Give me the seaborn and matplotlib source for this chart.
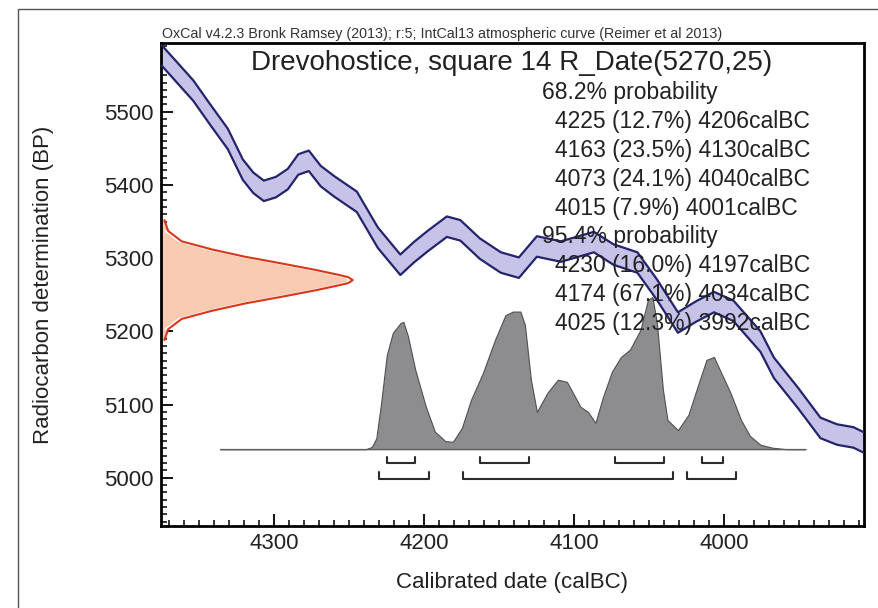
import numpy as np
import pandas as pd
import seaborn as sns
import matplotlib.pyplot as plt
from matplotlib.patches import Rectangle
from matplotlib.ticker import MultipleLocator

# calibration curve (IntCal13), centre line
curve_cal = [4375, 4354, 4343, 4331, 4321, 4314, 4307, 4299, 4291, 4284, 4277, 4269, 4260,
             4245, 4231, 4216, 4207, 4198, 4185, 4176, 4163, 4149, 4137, 4125, 4109, 4087,
             4074, 4058, 4045, 4031, 4019, 4007, 3994, 3976, 3967, 3951, 3936, 3925, 3914, 3907]
curve_bp = [5577, 5529, 5497, 5463, 5421, 5403, 5392, 5397, 5408, 5428, 5433, 5412, 5398,
            5377, 5328, 5291, 5308, 5323, 5343, 5338, 5313, 5294, 5287, 5316, 5309, 5322,
            5305, 5294, 5257, 5212, 5227, 5240, 5228, 5186, 5150, 5109, 5068, 5059, 5055, 5048]
curve_sigma = 14

# radiocarbon measurement R_Date(5270,25), drawn on the y axis
meas_bp = [5352, 5337, 5323, 5312, 5302, 5293, 5284, 5277, 5274, 5270, 5266, 5263, 5256,
           5247, 5238, 5228, 5217, 5203, 5188]
meas_width = [1.5, 4, 13, 33, 55, 79, 102, 118, 124, 127, 124, 118, 102,
              79, 55, 33, 13, 4, 1.5]

# calibrated posterior, heights above the baseline
post_base = 5039
post_cal = [4336, 4239, 4235, 4232, 4229, 4225, 4221, 4216, 4214, 4211, 4206, 4199, 4193,
            4186, 4181, 4175, 4169, 4161, 4153, 4146, 4141, 4136, 4133, 4129, 4125, 4118,
            4111, 4105, 4101, 4096, 4091, 4086, 4081, 4075, 4069, 4063, 4056, 4051, 4048,
            4045, 4041, 4038, 4031, 4024, 4018, 4012, 4007, 4003, 3996, 3989, 3983, 3976,
            3968, 3959, 3946]
post_h = [0, 0, 3, 15, 60, 129, 159, 172, 174, 155, 108, 58, 24,
          11, 10, 29, 67, 104, 149, 183, 188, 188, 170, 95, 51, 77,
          95, 92, 77, 58, 51, 36, 71, 106, 126, 136, 163, 204, 208,
          172, 81, 40, 26, 47, 85, 122, 126, 108, 77, 40, 18, 6,
          2, 0, 0]

# highest posterior density ranges
ranges_68 = [(4225, 4206), (4163, 4130), (4073, 4040), (4015, 4001)]
ranges_95 = [(4230, 4197), (4174, 4034), (4025, 3992)]
range_levels = {'68': (5020, 5028), '95': (4998, 5008)}

title = "Drevohostice, square 14 R_Date(5270,25)"
header = "OxCal v4.2.3 Bronk Ramsey (2013); r:5; IntCal13 atmospheric curve (Reimer et al 2013)"
info_lines = [
    ("68.2% probability", 0),
    ("4225 (12.7%) 4206calBC", 1),
    ("4163 (23.5%) 4130calBC", 1),
    ("4073 (24.1%) 4040calBC", 1),
    ("4015 (7.9%) 4001calBC", 1),
    ("95.4% probability", 0),
    ("4230 (16.0%) 4197calBC", 1),
    ("4174 (67.1%) 4034calBC", 1),
    ("4025 (12.3%) 3992calBC", 1),
]

sns.set_theme(style='ticks')
plt.rcParams['font.family'] = ['Liberation Sans', 'DejaVu Sans']

W, H = 879, 608
fig = plt.figure(figsize=(W / 100, H / 100), dpi=100)
ax = fig.add_axes([161 / W, (H - 526) / H, (864 - 161) / W, (526 - 43) / H])

curve = pd.DataFrame({'cal': curve_cal, 'bp': curve_bp})
curve['lo'] = curve['bp'] - curve_sigma
curve['hi'] = curve['bp'] + curve_sigma

ax.fill_between(curve['cal'], curve['lo'], curve['hi'], color='#c6c2e8', lw=0, zorder=2)
sns.lineplot(data=curve, x='cal', y='hi', sort=False, color='#25246a', lw=1.6, ax=ax, zorder=3)
sns.lineplot(data=curve, x='cal', y='lo', sort=False, color='#25246a', lw=1.6, ax=ax, zorder=3)

# measurement distribution hanging off the left axis
x0 = 4375.5
meas_x = [x0 - w for w in meas_width]
ax.fill_betweenx(meas_bp, x0, meas_x, color='#f8cbb2', lw=0, zorder=2)
ax.plot([x + 0.8 for x in meas_x[1:-1]], meas_bp[1:-1], color='white', lw=1.5, zorder=3)
ax.plot([x - 0.8 for x in meas_x], meas_bp, color='#d9361c', lw=1.5, zorder=4)

# posterior
post = pd.DataFrame({'cal': post_cal, 'h': post_h})
post['top'] = post_base + post['h']
ax.fill_between(post['cal'], post_base, post['top'], color='#8d8d90',
                edgecolor='#505050', lw=0.8, zorder=2)
ax.plot([post_cal[0], post_cal[-1]], [post_base, post_base], color='#606060', lw=0.9, zorder=3)

for key, rngs in (('68', ranges_68), ('95', ranges_95)):
    yl, yt = range_levels[key]
    for a, b in rngs:
        ax.plot([a, a, b, b], [yt, yl, yl, yt], color='#2b2b2b', lw=1.5, zorder=4)

ax.set_xlim(4375.5, 3907)
ax.set_ylim(4934, 5594)
ax.xaxis.set_major_locator(MultipleLocator(100))
ax.xaxis.set_minor_locator(MultipleLocator(10))
ax.yaxis.set_major_locator(MultipleLocator(100))
ax.yaxis.set_minor_locator(MultipleLocator(10))
ax.tick_params(which='both', direction='in', top=False, right=False, color='black',
               labelsize=16, pad=5, labelcolor='#222222')
ax.tick_params(which='major', length=8.5, width=1.3)
ax.tick_params(which='minor', length=4, width=1.1)
for s in ax.spines.values():
    s.set_linewidth(2)
    s.set_color('black')

ax.set_xlabel('Calibrated date (calBC)', fontsize=16, color='#222222')
ax.set_ylabel('Radiocarbon determination (BP)', fontsize=16, color='#222222')
ax.xaxis.set_label_coords(0.4986, -0.095)
ax.yaxis.set_label_coords(-0.152, 0.50)

fig.text(162 / W, 1 - 34 / H, header, fontsize=10.3, ha='left', va='center', color='#333333')
fig.text(512 / W, 1 - 63 / H, title, fontsize=20, ha='center', va='center', color='#222222')
for i, (txt, indent) in enumerate(info_lines):
    xpx = 555 if indent else 542
    ypx = 93 + i * 28.8
    fig.text(xpx / W, 1 - ypx / H, txt, fontsize=16.5, ha='left', va='center',
             color='#222222', zorder=5)

fig.patches.append(Rectangle((18 / W, -0.1), 1.2, 1 - 9 / H + 0.1, transform=fig.transFigure,
                             fill=False, edgecolor='#555555', lw=1))

fig.savefig('out.png', dpi=100)
